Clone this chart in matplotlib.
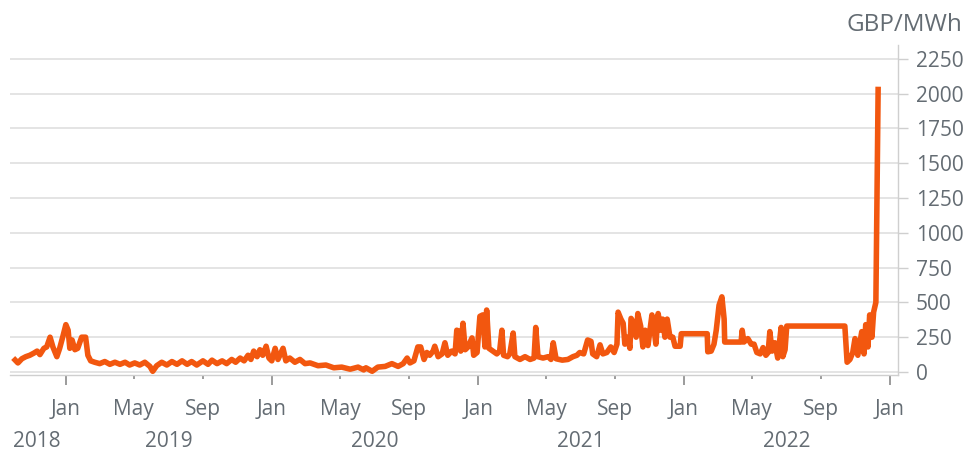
import matplotlib.pyplot as plt
import matplotlib.dates as mdates
import pandas as pd

# day-ahead price, GBP/MWh
dates = [
    "2018-10-03", "2018-10-08", "2018-10-15", "2018-10-22", "2018-10-29", "2018-11-05",
    "2018-11-11", "2018-11-16", "2018-11-23", "2018-11-28", "2018-12-04", "2018-12-09",
    "2018-12-16", "2018-12-21", "2018-12-27", "2019-01-01", "2019-01-05", "2019-01-08",
    "2019-01-12", "2019-01-17", "2019-01-22", "2019-01-29", "2019-02-05", "2019-02-09",
    "2019-02-14", "2019-02-21",
    "2019-03-02", "2019-03-11", "2019-03-20", "2019-03-29", "2019-04-07", "2019-04-16",
    "2019-04-24", "2019-05-03", "2019-05-12", "2019-05-21", "2019-05-30", "2019-06-04",
    "2019-06-11", "2019-06-20", "2019-06-29", "2019-07-08", "2019-07-17", "2019-07-26",
    "2019-08-04", "2019-08-12", "2019-08-21", "2019-09-01", "2019-09-10", "2019-09-17",
    "2019-09-26", "2019-10-05", "2019-10-13", "2019-10-22", "2019-10-29", "2019-11-06",
    "2019-11-13", "2019-11-20", "2019-11-25", "2019-11-30", "2019-12-06", "2019-12-11",
    "2019-12-16", "2019-12-22", "2019-12-27",
    "2020-01-01", "2020-01-07", "2020-01-12", "2020-01-21", "2020-01-26", "2020-02-02",
    "2020-02-11", "2020-02-20", "2020-02-29", "2020-03-09", "2020-03-23", "2020-04-06",
    "2020-04-20", "2020-05-04", "2020-05-19", "2020-06-02", "2020-06-12", "2020-06-16",
    "2020-06-27", "2020-07-07", "2020-07-20", "2020-08-01", "2020-08-12", "2020-08-21",
    "2020-08-28", "2020-09-02", "2020-09-09", "2020-09-16", "2020-09-21", "2020-09-27",
    "2020-10-02", "2020-10-07", "2020-10-13", "2020-10-16", "2020-10-22", "2020-10-29",
    "2020-11-03", "2020-11-08", "2020-11-15", "2020-11-21", "2020-11-24", "2020-11-30",
    "2020-12-01", "2020-12-05", "2020-12-09", "2020-12-14", "2020-12-21", "2020-12-24",
    "2020-12-30",
    "2021-01-04", "2021-01-09", "2021-01-13", "2021-01-16", "2021-01-20", "2021-01-27",
    "2021-02-03", "2021-02-08", "2021-02-12", "2021-02-15", "2021-02-22", "2021-02-26",
    "2021-03-04", "2021-03-07", "2021-03-16", "2021-03-25", "2021-04-03", "2021-04-10",
    "2021-04-13", "2021-04-17", "2021-04-26", "2021-05-05", "2021-05-10", "2021-05-14",
    "2021-05-19", "2021-05-30", "2021-06-09", "2021-06-18", "2021-06-25", "2021-06-30",
    "2021-07-07", "2021-07-14", "2021-07-20", "2021-07-23", "2021-07-30", "2021-08-05",
    "2021-08-10", "2021-08-17", "2021-08-24", "2021-08-30", "2021-09-04", "2021-09-06",
    "2021-09-11", "2021-09-15", "2021-09-18", "2021-09-23", "2021-09-27", "2021-09-29",
    "2021-10-04", "2021-10-08", "2021-10-11", "2021-10-16", "2021-10-20", "2021-10-24",
    "2021-10-29", "2021-11-05", "2021-11-09", "2021-11-12", "2021-11-16", "2021-11-21",
    "2021-11-24", "2021-11-28", "2021-12-02", "2021-12-07", "2021-12-12", "2021-12-16",
    "2021-12-25", "2021-12-27",
    "2022-02-11", "2022-02-12", "2022-02-18", "2022-02-23", "2022-02-27", "2022-03-04",
    "2022-03-09", "2022-03-13", "2022-03-14", "2022-04-12", "2022-04-14", "2022-04-17",
    "2022-04-24", "2022-04-30", "2022-05-05", "2022-05-10", "2022-05-16", "2022-05-21",
    "2022-05-26", "2022-05-30", "2022-06-02", "2022-06-06", "2022-06-11", "2022-06-16",
    "2022-06-22", "2022-06-25", "2022-06-29", "2022-07-02", "2022-10-13", "2022-10-17",
    "2022-10-22", "2022-10-27", "2022-10-31", "2022-11-05", "2022-11-12", "2022-11-16",
    "2022-11-19", "2022-11-23", "2022-11-26", "2022-11-30", "2022-12-03", "2022-12-07",
    "2022-12-11",
]
price = [
    86, 65, 95, 110, 120, 135,
    150, 125, 170, 180, 250, 180,
    110, 170, 260, 340, 300, 170,
    230, 160, 170, 250, 250, 120,
    80, 70,
    60, 75, 55, 70, 55, 70,
    50, 65, 50, 70, 40, 5,
    45, 70, 50, 75, 55, 80,
    55, 75, 50, 80, 55, 85,
    60, 80, 60, 90, 70, 100,
    80, 120, 90, 150, 110, 160,
    120, 185, 100,
    80, 170, 90, 170, 80, 100,
    70, 90, 60, 65, 45, 50,
    30, 35, 20, 35, 15, 30,
    5, 35, 40, 60, 40, 60,
    100, 65, 80, 180, 180, 90,
    140, 120, 150, 185, 110, 130,
    210, 120, 150, 130, 300, 290,
    150, 350, 160, 180, 245, 120,
    140,
    400, 410, 180, 445, 170, 150,
    130, 150, 300, 120, 110, 130,
    280, 110, 90, 110, 90, 100,
    320, 110, 100, 110, 90, 210,
    95, 85, 90, 110, 120, 140,
    130, 230, 220, 130, 110, 195,
    130, 140, 180, 140, 200, 430,
    380, 350, 200, 250, 170, 385,
    350, 250, 420, 330, 180, 300,
    190, 410, 300, 200, 420, 300,
    380, 250, 380, 250, 250, 185,
    185, 275,
    275, 145, 150, 200, 300, 480,
    540, 380, 215, 215, 300, 215,
    240, 200, 200, 140, 130, 175,
    120, 140, 290, 150, 210, 100,
    320, 110, 160, 330, 330, 70,
    90, 140, 240, 120, 290, 130,
    340, 180, 410, 250, 430, 500,
    2030,
]

year_labels = ["2018", "2019", "2020", "2021", "2022"]
year_pos = ["2018-11-11", "2019-07-02", "2020-07-02", "2021-07-02", "2022-07-02"]
yticks = [0, 250, 500, 750, 1000, 1250, 1500, 1750, 2000, 2250]

txt = "#646c73"
orange = "#F2570F"
plt.rcParams['font.family'] = ['Open Sans', 'DejaVu Sans']

x = pd.to_datetime(dates)
fig = plt.figure(figsize=(9.64, 4.54), dpi=100)
ax = fig.add_axes([0.0104, 0.173, 0.921, 0.728])

ax.plot(x, price, color=orange, lw=4.0, solid_joinstyle='round', zorder=3)

ax.set_ylim(-25, 2350)
ax.set_xlim(pd.Timestamp("2018-09-24"), pd.Timestamp("2023-01-15"))
ax.set_yticks(yticks)
ax.yaxis.tick_right()
ax.grid(axis='y', color='#dcdcdc', lw=1.1)
ax.set_axisbelow(True)

for s in ['left', 'top']:
    ax.spines[s].set_visible(False)
for s in ['right', 'bottom']:
    ax.spines[s].set_color('#cfcfcf')
    ax.spines[s].set_linewidth(1.0)

ax.xaxis.set_major_locator(mdates.MonthLocator(bymonth=[1]))
ax.xaxis.set_major_formatter(mdates.DateFormatter('%b'))
ax.xaxis.set_minor_locator(mdates.MonthLocator(bymonth=[5, 9]))
ax.xaxis.set_minor_formatter(mdates.DateFormatter('%b'))
ax.tick_params(axis='x', which='major', length=7, width=1.2, color='#8a8a8a',
               labelsize=15, labelcolor=txt, pad=10)
ax.tick_params(axis='x', which='minor', length=3, width=1.2, color='#8a8a8a',
               labelsize=15, labelcolor=txt, pad=14)
ax.tick_params(axis='y', length=7, width=1.0, color='#cfcfcf',
               labelsize=15, labelcolor=txt, pad=6)

for lab, pos in zip(year_labels, year_pos):
    ax.text(pd.Timestamp(pos), -0.2, lab, transform=ax.get_xaxis_transform(),
            ha='center', va='center', fontsize=15, color=txt)

fig.text(0.998, 0.945, "GBP/MWh", ha='right', va='center', fontsize=17.5, color=txt)

fig.savefig("out.png", dpi=100)
